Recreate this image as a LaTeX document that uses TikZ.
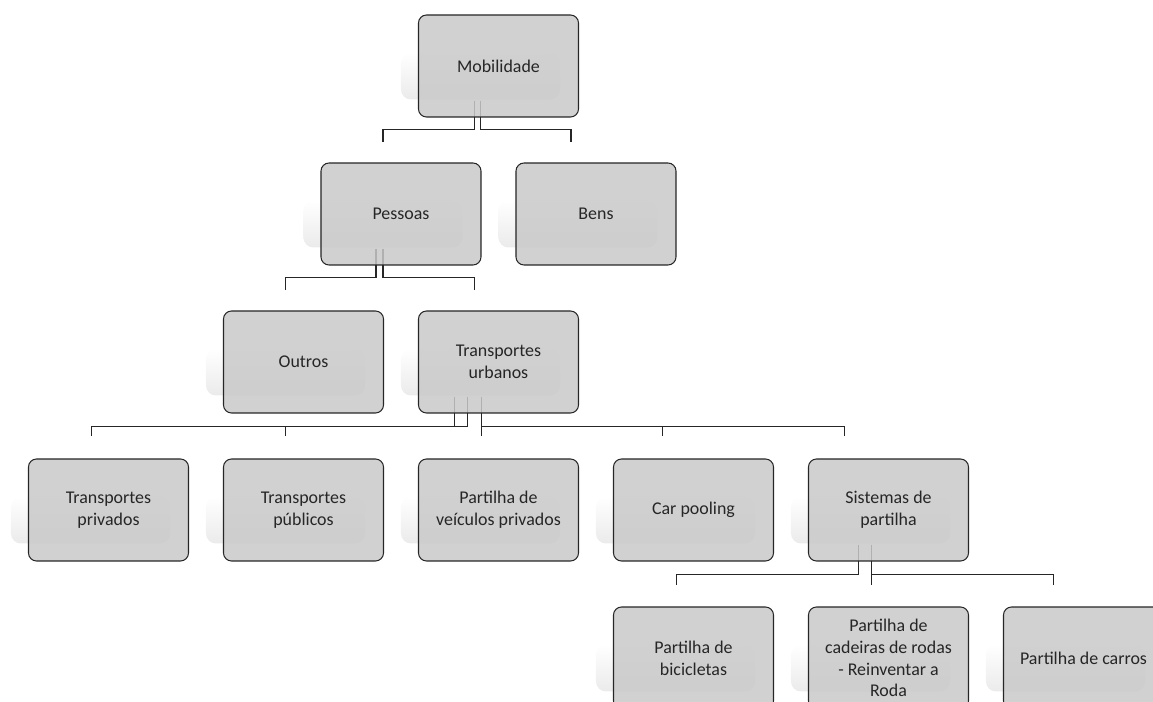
\documentclass[tikz,border=0pt]{standalone}
\usepackage{fontspec}
\setmainfont{Carlito}
\usetikzlibrary{backgrounds}

\begin{document}
\begin{tikzpicture}[node distance=3.9cm,
    box/.style={rectangle, draw=black!85, line width=0.6pt, fill=gray!42, fill opacity=0.85, draw opacity=1, text opacity=1, text=black!85, minimum width=3.2cm, minimum height=2.04cm, align=center, rounded corners=0.16cm, font=\fontsize{10.2}{12.4}\selectfont},
    shadowbox/.style={top color=white, bottom color=gray!16, rounded corners=0.2cm},
    link/.style={draw=black!85, line width=0.6pt}]

\useasboundingbox (-9.97,1.32) rectangle (13.09,-12.72);

\node [box] (mob) {Mobilidade};
\node [box, below of=mob, node distance=2.96cm, xshift=-1.95cm] (pess) {Pessoas};
\node [box, right of=pess] (bens) {Bens};
\node [box, below of=pess, node distance=2.96cm, xshift=-1.95cm] (outr) {Outros};
\node [box, right of=outr] (turb) {Transportes\\urbanos};
\node [box, below of=outr, node distance=2.96cm] (tpub) {Transportes\\públicos};
\node [box, left of=tpub] (tpriv) {Transportes\\privados};
\node [box, right of=tpub] (pvp) {Partilha de\\veículos privados};
\node [box, right of=pvp] (carp) {Car pooling};
\node [box, right of=carp] (sist) {Sistemas de\\partilha};
\node [box, below of=carp, node distance=2.96cm] (pbic) {Partilha de\\bicicletas};
\node [box, right of=pbic] (pcad) {Partilha de\\cadeiras de rodas\\- Reinventar a\\Roda};
\node [box, right of=pcad] (pcar) {Partilha de carros};

\begin{scope}[on background layer]
\foreach \n in {mob,pess,bens,outr,turb,tpriv,tpub,pvp,carp,sist,pbic,pcad,pcar}
    \shade [shadowbox] ([xshift=-0.34cm, yshift=-0.76cm]\n.north west) rectangle ([xshift=-0.38cm, yshift=-1.7cm]\n.north east);

\draw [link] ([xshift=-0.48cm, yshift=0.34cm]mob.south) -- ++(0,-0.58) -| ([xshift=-0.36cm, yshift=0.4cm]pess.north);
\draw [link] ([xshift=-0.36cm, yshift=0.34cm]mob.south) -- ++(0,-0.58) -| ([xshift=-0.50cm, yshift=0.4cm]bens.north);

\draw [link] ([xshift=-0.50cm, yshift=0.34cm]pess.south) -- ++(0,-0.58) -| ([xshift=-0.36cm, yshift=0.4cm]outr.north);
\draw [link] ([xshift=-0.36cm, yshift=0.34cm]pess.south) -- ++(0,-0.58) -| ([xshift=-0.48cm, yshift=0.4cm]turb.north);

\draw [link] ([xshift=-0.88cm, yshift=0.34cm]turb.south) -- ++(0,-0.60) -| ([xshift=-0.34cm, yshift=0.44cm]tpriv.north);
\draw [link] ([xshift=-0.62cm, yshift=0.34cm]turb.south) -- ++(0,-0.60) -| ([xshift=-0.36cm, yshift=0.44cm]tpub.north);
\draw [link] ([xshift=-0.34cm, yshift=0.34cm]turb.south) -- ([xshift=-0.34cm, yshift=0.44cm]pvp.north);
\draw [link] ([xshift=-0.34cm, yshift=0.34cm]turb.south) -- ++(0,-0.60) -| ([xshift=-0.62cm, yshift=0.44cm]carp.north);
\draw [link] ([xshift=-0.34cm, yshift=0.34cm]turb.south) -- ++(0,-0.60) -| ([xshift=-0.88cm, yshift=0.44cm]sist.north);

\draw [link] ([xshift=-0.60cm, yshift=0.34cm]sist.south) -- ++(0,-0.60) -| ([xshift=-0.34cm, yshift=0.42cm]pbic.north);
\draw [link] ([xshift=-0.34cm, yshift=0.34cm]sist.south) -- ([xshift=-0.34cm, yshift=0.42cm]pcad.north);
\draw [link] ([xshift=-0.34cm, yshift=0.34cm]sist.south) -- ++(0,-0.60) -| ([xshift=-0.60cm, yshift=0.42cm]pcar.north);
\end{scope}

\end{tikzpicture}
\end{document}
